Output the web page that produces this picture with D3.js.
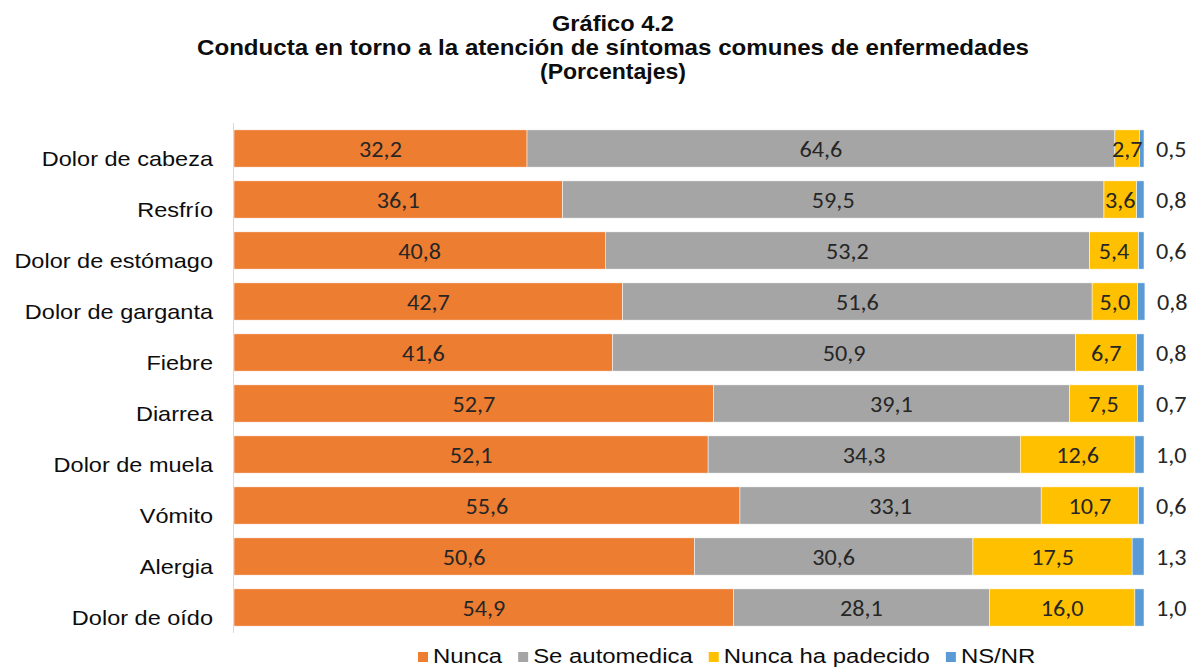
<!DOCTYPE html>
<meta charset="utf-8">
<style>
  body { margin: 0; background: #fff; }
  svg text { fill: #0d0d0d; }
</style>
<script src="https://d3js.org/d3.v7.min.js"></script>
<div id="chart"></div>
<script>
// data
var categories = ["Dolor de cabeza", "Resfrío", "Dolor de estómago", "Dolor de garganta", "Fiebre",
                  "Diarrea", "Dolor de muela", "Vómito", "Alergia", "Dolor de oído"];
var nunca      = [32.2, 36.1, 40.8, 42.7, 41.6, 52.7, 52.1, 55.6, 50.6, 54.9];
var automedica = [64.6, 59.5, 53.2, 51.6, 50.9, 39.1, 34.3, 33.1, 30.6, 28.1];
var padecido   = [2.7, 3.6, 5.4, 5.0, 6.7, 7.5, 12.6, 10.7, 17.5, 16.0];
var nsnr       = [0.5, 0.8, 0.6, 0.8, 0.8, 0.7, 1.0, 0.6, 1.3, 1.0];
var seriesNames = ["Nunca", "Se automedica", "Nunca ha padecido", "NS/NR"];
var titleLines = ["Gráfico 4.2",
                  "Conducta en torno a la atención de síntomas comunes de enfermedades",
                  "(Porcentajes)"];

var width = 1196, height = 669;
var keys = ["nunca", "automedica", "padecido", "nsnr"];
var colors = ["#ED7D31", "#A5A5A5", "#FFC000", "#5B9BD5"];

var rows = categories.map(function (c, i) {
  return { cat: c, nunca: nunca[i], automedica: automedica[i], padecido: padecido[i], nsnr: nsnr[i] };
});

var svg = d3.select("#chart").append("svg")
  .attr("width", width)
  .attr("height", height);

var x = d3.scaleLinear().domain([0, 100]).range([234, 1144]);
var y = d3.scaleBand().domain(categories).range([123, 633]).paddingInner(0.27).paddingOuter(0.135);

var fmt = function (v) { return d3.format(".1f")(v).replace(".", ","); };

// text helper, the source is stretched a bit horizontally
function stretchText(sel, tx, ty, sx) {
  return sel.attr("transform", "translate(" + tx + "," + ty + ") scale(" + sx + ",1)");
}

// title
var titleFont = "'Liberation Sans Narrow','Arial Narrow','Liberation Sans',Arial,sans-serif";
var titleLens = [122, 832, 146];
var titleBase = [31, 55, 79];
titleLines.forEach(function (t, i) {
  svg.append("text")
    .attr("x", 613)
    .attr("y", titleBase[i])
    .attr("text-anchor", "middle")
    .attr("font-family", titleFont)
    .attr("font-weight", "bold")
    .attr("font-size", "22px")
    .attr("textLength", titleLens[i])
    .attr("lengthAdjust", "spacingAndGlyphs")
    .text(t);
});

var stack = d3.stack().keys(keys)(rows);

var layers = svg.append("g").selectAll("g")
  .data(stack)
  .enter().append("g")
    .attr("fill", function (d, i) { return colors[i]; });

layers.selectAll("rect")
  .data(function (d) { return d; })
  .enter().append("rect")
    .attr("x", function (d) { return x(d[0]); })
    .attr("y", function (d) { return y(d.data.cat); })
    .attr("width", function (d) { return x(d[1]) - x(d[0]); })
    .attr("height", y.bandwidth())
    .attr("stroke", "#fff")
    .attr("stroke-width", 0.5);

// data labels
var labelFont = "Carlito,Calibri,Lato,sans-serif";
stack.forEach(function (layer, li) {
  layer.forEach(function (d) {
    var cy = y(d.data.cat) + y.bandwidth() / 2 + 8;
    var cx, anchor;
    if (li < 3) { cx = (x(d[0]) + x(d[1])) / 2; anchor = "middle"; }
    else { cx = x(d[1]) + 12; anchor = "start"; }
    stretchText(svg.append("text"), cx, cy, 1.1)
      .attr("text-anchor", anchor)
      .attr("font-family", labelFont)
      .attr("font-size", "22px")
      .style("fill", "#262626")
      .text(fmt(d[1] - d[0]));
  });
});

// category axis
svg.append("line")
  .attr("x1", x(0) - 0.5).attr("x2", x(0) - 0.5)
  .attr("y1", y.range()[0]).attr("y2", y.range()[1])
  .attr("stroke", "#d9d9d9")
  .attr("stroke-width", 1);

categories.forEach(function (c) {
  stretchText(svg.append("text"), 213, y(c) + y.bandwidth() / 2 + 17.5, 1.12)
    .attr("text-anchor", "end")
    .attr("font-family", "'Liberation Sans',Arial,sans-serif")
    .attr("font-size", "21px")
    .text(c);
});

// legend
var lx = 418, sx = 1.14;
seriesNames.forEach(function (name, i) {
  svg.append("rect")
    .attr("x", lx).attr("y", 652)
    .attr("width", 10).attr("height", 10)
    .attr("fill", colors[i]);
  var t = stretchText(svg.append("text"), lx + 15, 663, sx)
    .attr("font-family", "'Liberation Sans',Arial,sans-serif")
    .attr("font-size", "21px")
    .text(name);
  lx += 15 + t.node().getComputedTextLength() * sx + 16;
});
</script>
